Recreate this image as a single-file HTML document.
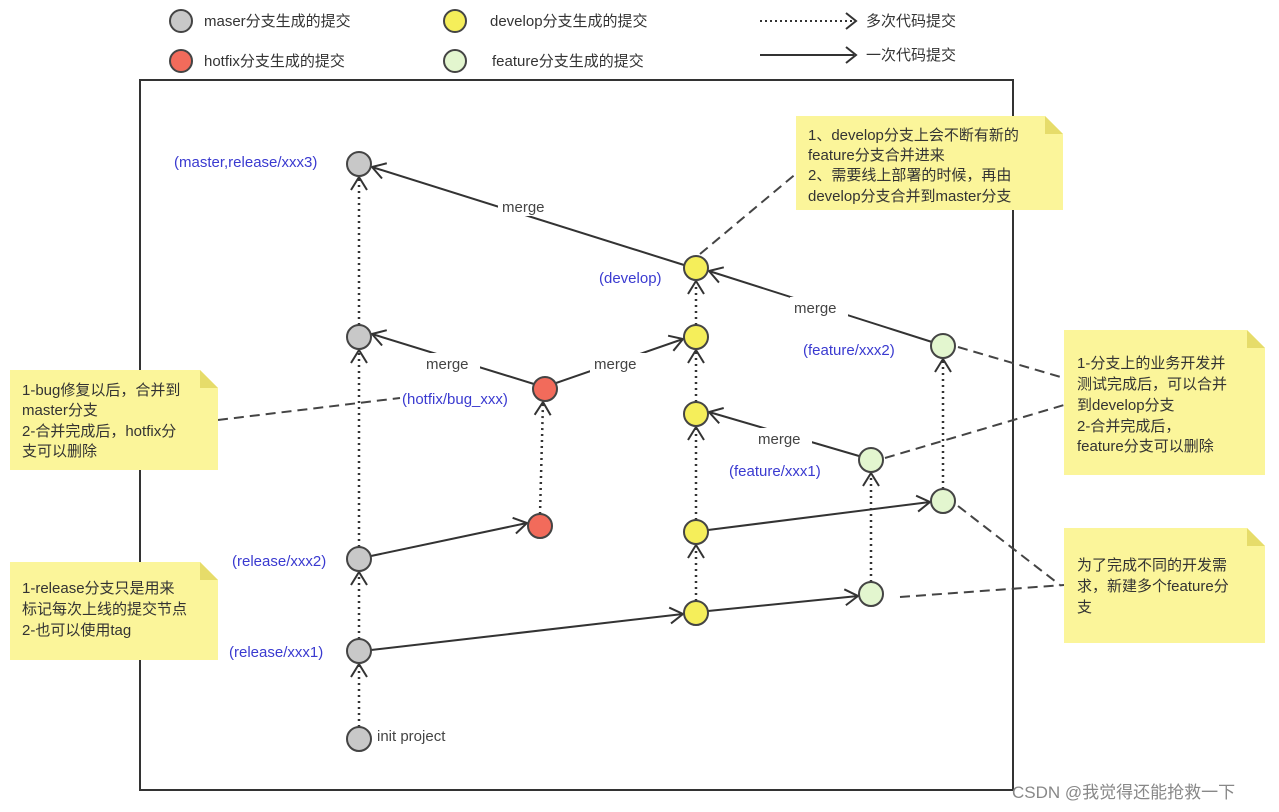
<!DOCTYPE html>
<html><head><meta charset="utf-8"><style>
body{margin:0;background:#fff;}
svg{display:block;font-family:"Liberation Sans","Noto Sans CJK SC",sans-serif;}
.lb{fill:#3a3ad0;font-size:15px;}
.mg{fill:#444;font-size:15px;}
.nt{fill:#333;font-size:15px;}
.lg{fill:#333;font-size:15px;}
</style></head><body>
<svg width="1279" height="812" viewBox="0 0 1279 812" xmlns="http://www.w3.org/2000/svg">
<defs>
<marker id="a" markerWidth="18" markerHeight="18" refX="14" refY="9" orient="auto" markerUnits="userSpaceOnUse">
<path d="M1,1 L14,9 L1,17" fill="none" stroke="#333" stroke-width="2" stroke-dasharray="none"/>
</marker>
</defs>
<circle cx="181" cy="21" r="11" fill="#c8c8c8" stroke="#444" stroke-width="2"/>
<text x="204" y="26" class="lg">maser分支生成的提交</text>
<circle cx="181" cy="61" r="11" fill="#f26b5b" stroke="#444" stroke-width="2"/>
<text x="204" y="66" class="lg">hotfix分支生成的提交</text>
<circle cx="455" cy="21" r="11" fill="#f5ee5a" stroke="#444" stroke-width="2"/>
<text x="490" y="26" class="lg">develop分支生成的提交</text>
<circle cx="455" cy="61" r="11" fill="#e3f6cf" stroke="#444" stroke-width="2"/>
<text x="492" y="66" class="lg">feature分支生成的提交</text>
<line x1="760" y1="21" x2="852" y2="21" stroke="#333" stroke-width="2" stroke-dasharray="2,3"/>
<path d="M846,13 L856,21 L846,29" fill="none" stroke="#333" stroke-width="2"/>
<text x="866" y="26" class="lg">多次代码提交</text>
<line x1="760" y1="55" x2="854" y2="55" stroke="#333" stroke-width="2"/>
<path d="M846,47 L856,55 L846,63" fill="none" stroke="#333" stroke-width="2"/>
<text x="866" y="60" class="lg">一次代码提交</text>
<rect x="140" y="80" width="873" height="710" fill="none" stroke="#333" stroke-width="2"/>
<g stroke="#333" stroke-width="2.5" stroke-dasharray="2,4" fill="none" marker-end="url(#a)">
<line x1="359" y1="727" x2="359" y2="664"/>
<line x1="359" y1="639" x2="359" y2="572"/>
<line x1="359" y1="547" x2="359" y2="350"/>
<line x1="359" y1="325" x2="359" y2="177"/>
<line x1="540" y1="514" x2="543" y2="402"/>
<line x1="696" y1="601" x2="696" y2="545"/>
<line x1="696" y1="520" x2="696" y2="427"/>
<line x1="696" y1="402" x2="696" y2="350"/>
<line x1="696" y1="325" x2="696" y2="281"/>
<line x1="871" y1="582" x2="871" y2="473"/>
<line x1="943" y1="489" x2="943" y2="359"/>
</g>
<g stroke="#333" stroke-width="2" fill="none" marker-end="url(#a)">
<line x1="371" y1="650" x2="683" y2="614"/>
<line x1="708" y1="611" x2="858" y2="596"/>
<line x1="371" y1="556" x2="527" y2="523"/>
<line x1="708" y1="530" x2="930" y2="502"/>
<line x1="534" y1="384" x2="372" y2="334"/>
<line x1="556" y1="383" x2="683" y2="339"/>
<line x1="859" y1="456" x2="709" y2="412"/>
<line x1="932" y1="342" x2="709" y2="271"/>
<line x1="684" y1="265" x2="372" y2="167"/>
</g>
<g fill="#fff">
<rect x="498" y="196" width="58" height="20"/>
<rect x="790" y="297" width="58" height="20"/>
<rect x="422" y="353" width="58" height="20"/>
<rect x="590" y="353" width="58" height="20"/>
<rect x="754" y="428" width="58" height="20"/>
</g>
<text x="502" y="212" class="mg">merge</text>
<text x="794" y="313" class="mg">merge</text>
<text x="426" y="369" class="mg">merge</text>
<text x="594" y="369" class="mg">merge</text>
<text x="758" y="444" class="mg">merge</text>
<g stroke="#444" stroke-width="2" stroke-dasharray="10,6" fill="none">
<line x1="700" y1="254" x2="798" y2="172"/>
<line x1="218" y1="420" x2="400" y2="398"/>
<line x1="958" y1="347" x2="1064" y2="378"/>
<line x1="885" y1="458" x2="1064" y2="405"/>
<line x1="958" y1="506" x2="1060" y2="585"/>
<line x1="900" y1="597" x2="1064" y2="585"/>
</g>
<g stroke="#444" stroke-width="2">
<g fill="#c8c8c8">
<circle cx="359" cy="164" r="12"/><circle cx="359" cy="337" r="12"/><circle cx="359" cy="559" r="12"/><circle cx="359" cy="651" r="12"/><circle cx="359" cy="739" r="12"/>
</g>
<g fill="#f26b5b"><circle cx="545" cy="389" r="12"/><circle cx="540" cy="526" r="12"/></g>
<g fill="#f5ee5a">
<circle cx="696" cy="268" r="12"/><circle cx="696" cy="337" r="12"/><circle cx="696" cy="414" r="12"/><circle cx="696" cy="532" r="12"/><circle cx="696" cy="613" r="12"/>
</g>
<g fill="#e3f6cf">
<circle cx="943" cy="346" r="12"/><circle cx="871" cy="460" r="12"/><circle cx="943" cy="501" r="12"/><circle cx="871" cy="594" r="12"/>
</g>
</g>
<text x="174" y="167" class="lb">(master,release/xxx3)</text>
<text x="599" y="283" class="lb">(develop)</text>
<text x="803" y="355" class="lb">(feature/xxx2)</text>
<text x="402" y="404" class="lb">(hotfix/bug_xxx)</text>
<text x="729" y="476" class="lb">(feature/xxx1)</text>
<text x="232" y="566" class="lb">(release/xxx2)</text>
<text x="229" y="657" class="lb">(release/xxx1)</text>
<text x="377" y="741" class="mg" fill="#333">init project</text>
<g fill="#fbf59a">
<path d="M796,116 H1045 L1063,134 V210 H796 Z"/>
<path d="M10,370 H200 L218,388 V470 H10 Z"/>
<path d="M1064,330 H1247 L1265,348 V475 H1064 Z"/>
<path d="M10,562 H200 L218,580 V660 H10 Z"/>
<path d="M1064,528 H1247 L1265,546 V643 H1064 Z"/>
</g>
<g fill="#e6dc6a">
<path d="M1045,116 L1063,134 H1045 Z"/><path d="M200,370 L218,388 H200 Z"/><path d="M1247,330 L1265,348 H1247 Z"/><path d="M200,562 L218,580 H200 Z"/><path d="M1247,528 L1265,546 H1247 Z"/>
</g>
<text class="nt"><tspan x="808" y="140">1、develop分支上会不断有新的</tspan><tspan x="808" y="160">feature分支合并进来</tspan><tspan x="808" y="180">2、需要线上部署的时候，再由</tspan><tspan x="808" y="201">develop分支合并到master分支</tspan></text>
<text class="nt"><tspan x="22" y="395">1-bug修复以后，合并到</tspan><tspan x="22" y="415">master分支</tspan><tspan x="22" y="436">2-合并完成后，hotfix分</tspan><tspan x="22" y="456">支可以删除</tspan></text>
<text class="nt"><tspan x="1077" y="368">1-分支上的业务开发并</tspan><tspan x="1077" y="389">测试完成后，可以合并</tspan><tspan x="1077" y="410">到develop分支</tspan><tspan x="1077" y="431">2-合并完成后，</tspan><tspan x="1077" y="451">feature分支可以删除</tspan></text>
<text class="nt"><tspan x="22" y="593">1-release分支只是用来</tspan><tspan x="22" y="614">标记每次上线的提交节点</tspan><tspan x="22" y="635">2-也可以使用tag</tspan></text>
<text class="nt"><tspan x="1077" y="570">为了完成不同的开发需</tspan><tspan x="1077" y="591">求，新建多个feature分</tspan><tspan x="1077" y="612">支</tspan></text>
<text x="1012" y="798" font-size="17" fill="#888">CSDN @我觉得还能抢救一下</text>
</svg>
</body></html>
